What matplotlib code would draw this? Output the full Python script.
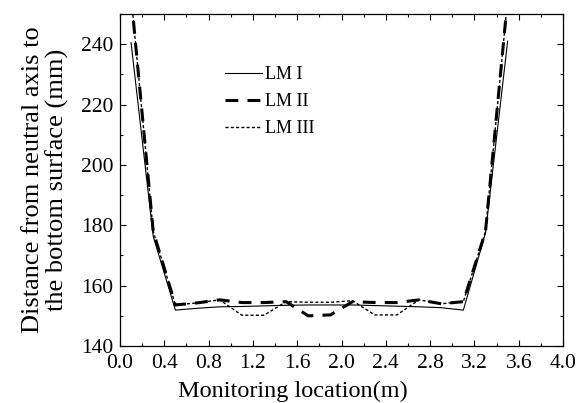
import numpy as np
import matplotlib
matplotlib.use("Agg")
import matplotlib.pyplot as plt
from matplotlib.ticker import MultipleLocator, FormatStrFormatter

# monitoring points along the beam (m)
location = [0.1, 0.3, 0.5, 0.7, 0.9, 1.1, 1.3, 1.5, 1.7, 1.9,
            2.1, 2.3, 2.5, 2.7, 2.9, 3.1, 3.3, 3.5]

# neutral axis height above the bottom surface (mm)
lm1 = [240.5, 176.3, 151.9, 152.5, 153.0, 153.1, 153.3, 153.5, 153.6, 153.6,
       153.6, 153.4, 153.2, 153.0, 152.7, 151.9, 177.4, 241.0]
lm2 = [256.0, 178.0, 153.6, 154.3, 155.3, 154.4, 154.4, 154.7, 150.0, 150.3,
       154.7, 154.4, 154.4, 155.3, 154.0, 154.7, 178.0, 255.0]
lm3 = [256.0, 178.0, 153.6, 154.3, 155.3, 150.2, 150.2, 154.7, 154.5, 154.5,
       155.0, 150.3, 150.3, 155.3, 154.0, 154.7, 178.0, 255.0]

labels = ["LM I", "LM II", "LM III"]

plt.rcParams.update(
    {
        "font.family": ["Liberation Serif", "DejaVu Serif"],
        "font.size": 13,
        "xtick.direction": "in",
        "ytick.direction": "in",
        "xtick.top": True,
        "ytick.right": True,
        "xtick.minor.visible": True,
        "ytick.minor.visible": True,
    }
)

fig = plt.figure(figsize=(5.78, 4.03), dpi=100)
ax = fig.add_axes([0.2076, 0.1414, 0.7665, 0.8238])

ax.plot(location, lm1, color="black", lw=0.8, label=labels[0])
ax.plot(location, lm2, color="black", lw=2.2, linestyle=(0, (4.2, 3.0)), label=labels[1])
ax.plot(location, lm3, color="black", lw=1.0, linestyle=(0, (2.2, 1.6)), label=labels[2])

ax.set_xlim(0.0, 4.0)
ax.set_ylim(140, 250)
ax.xaxis.set_major_locator(MultipleLocator(0.4))
ax.xaxis.set_minor_locator(MultipleLocator(0.2))
ax.yaxis.set_major_locator(MultipleLocator(20))
ax.yaxis.set_minor_locator(MultipleLocator(10))
ax.xaxis.set_major_formatter(FormatStrFormatter("%.1f"))

ax.tick_params(which="major", length=4, width=0.8, labelsize=15.5)
ax.tick_params(axis="x", which="major", pad=5.5)
ax.tick_params(axis="y", which="major", pad=5)
ax.tick_params(which="minor", length=2.5, width=0.8)
for s in ax.spines.values():
    s.set_linewidth(0.9)

# x label sits centred on the figure rather than the axes
fig.text(293 / 578, 0.015, "Monitoring location(m)", fontsize=17.5,
         ha="center", va="baseline")
ax.set_ylabel("Distance from neutral axis to\nthe bottom surface (mm)",
              fontsize=19, labelpad=8, linespacing=1.1)

ax.legend(loc="upper left", bbox_to_anchor=(0.237, 0.843), frameon=False,
          fontsize=13, handlelength=2.05, handletextpad=0.15, labelspacing=0.55,
          borderpad=0, borderaxespad=0)

fig.savefig("out.png", dpi=100)
